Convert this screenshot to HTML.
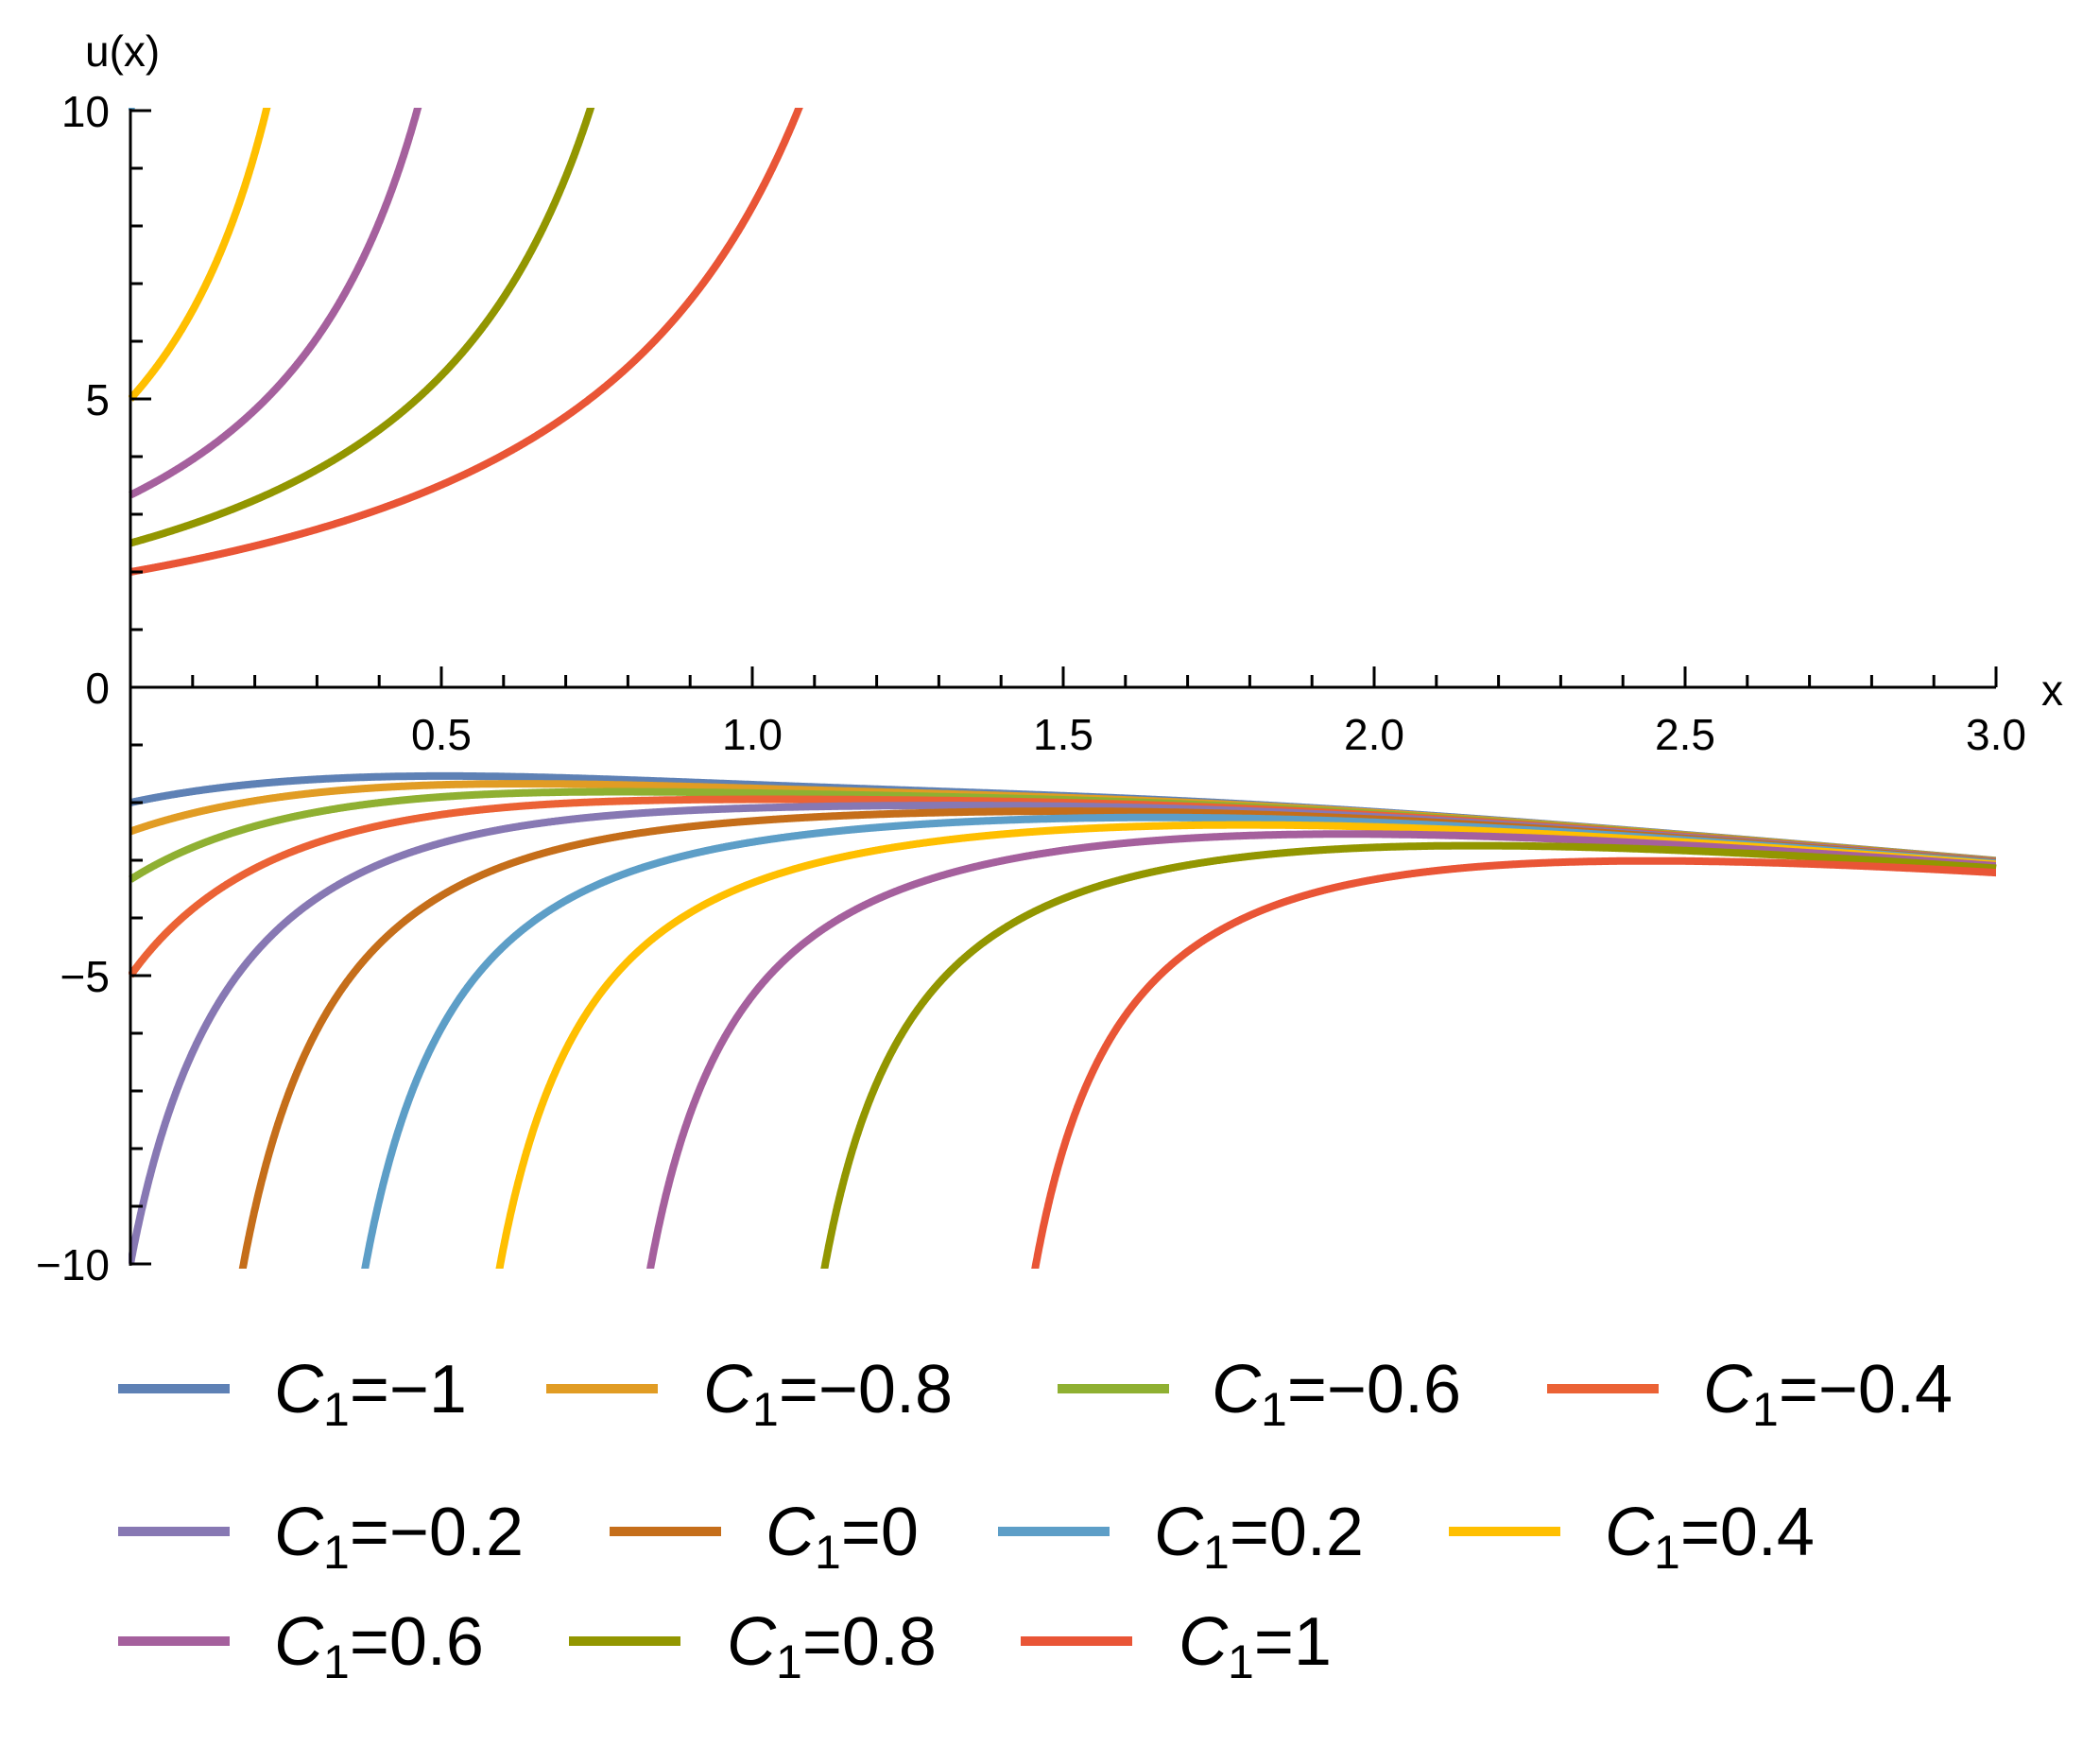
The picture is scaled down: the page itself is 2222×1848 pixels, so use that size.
<!DOCTYPE html>
<html><head><meta charset="utf-8"><style>
html,body{margin:0;padding:0;background:#fff;}
svg{display:block;}
text{font-family:"Liberation Sans",sans-serif;}
</style></head><body>
<svg id="s" width="2222" height="1848" viewBox="0 0 2222 1848" xmlns="http://www.w3.org/2000/svg">
<defs><clipPath id="c"><rect x="136" y="114" width="1990" height="1228"/></clipPath></defs>
<g id="curves" clip-path="url(#c)" fill="none" stroke-width="8" stroke-linejoin="round"></g>
<g id="axes" stroke="#000" stroke-width="3"></g>
<g id="labels" font-size="46" fill="#000"></g>
<text x="90" y="70" font-size="46">u(x)</text>
<text x="2160" y="746" font-size="46">x</text>
<g id="legend" font-size="72" fill="#000"></g>
</svg>
<script>
var NS="http://www.w3.org/2000/svg";
function el(t,a,p,txt){var e=document.createElementNS(NS,t);for(var k in a)e.setAttribute(k,a[k]);if(txt!==undefined)e.textContent=txt;p.appendChild(e);return e;}
var X0=138,XS=658,Y0=727,YS=61;
function px(x){return X0+x*XS;} function py(y){return Y0-y*YS;}
var cols=["#5E81B5","#E19C24","#8FB032","#EB6235","#8778B3","#C56E1A","#5D9EC7","#FFBF00","#A5609D","#929600","#E95536"];
var Cs=[-1,-0.8,-0.6,-0.4,-0.2,0,0.2,0.4,0.6,0.8,1];
var k=0.65,m=0.091,b=0.791;
function lw(C,x){var E=Math.exp(k*x+m*x*x);return C*0.5*E-b*(E-1);}
function lower(C,x){var w=lw(C,x);
 var p=-0.985*x*(1+0.2*Math.exp(-2*(x-0.8)*(x-0.8)));return p+1/w;}
function u(C,x){
 if(C>0){ if(lw(C,x)>0){var den=C/2-(0.48*x-0.1*x*x); return den>0?1/den:NaN;}
   var v=lower(C,x); return v<0?v:NaN;}
 return lower(C,x);}
var cg=document.getElementById("curves");
Cs.forEach(function(C,i){
  var d="",pen=false,prev=null;
  for(var j=0;j<=3000;j++){var x=j*0.001;var v=u(C,x);
    if(!isFinite(v)||(prev!==null&&isFinite(prev)&&Math.sign(prev)!==Math.sign(v))){pen=false;prev=v;continue;}
    var vv=Math.max(-10.5,Math.min(10.5,v));
    if(Math.abs(v)>10.5){ if(pen){d+="L"+px(x).toFixed(1)+" "+py(vv).toFixed(1);} pen=false; prev=v; continue;}
    if(!pen&&prev!==null&&Math.abs(prev)>10.5){var xp=x-0.001;d+="M"+px(xp).toFixed(1)+" "+py(prev>0?10.5:-10.5).toFixed(1);pen=true;}
    d+=(pen?"L":"M")+px(x).toFixed(1)+" "+py(vv).toFixed(1);pen=true;prev=v;}
  el("path",{d:d,stroke:cols[i]},cg);
});
var ag=document.getElementById("axes"),lg=document.getElementById("labels");
el("line",{x1:X0,y1:py(10.03),x2:X0,y2:py(-10.03)},ag);
el("line",{x1:X0,y1:Y0,x2:px(3),y2:Y0},ag);
for(var i=1;i<=30;i++){var x=px(i/10);var L=(i%5==0)?22:13;el("line",{x1:x,y1:Y0,x2:x,y2:Y0-L},ag);
 if(i%5==0)el("text",{x:x,y:Y0+66,"text-anchor":"middle"},lg,(i/10).toFixed(1));}
for(var v=-10;v<=10;v++){var y=py(v);var L=(v%5==0)?22:13;el("line",{x1:X0,y1:y,x2:X0+L,y2:y},ag);
 if(v%5==0)el("text",{x:116,y:y+17,"text-anchor":"end"},lg,(v<0?"\u2212":"")+Math.abs(v));}
var leg=document.getElementById("legend");
var rows=[[1469,[125,578,1119,1637],[290,744,1282,1802]],[1620,[125,645,1056,1533],[290,810,1221,1698]],[1736,[125,602,1080],[290,769,1247]]];
var n=0;
rows.forEach(function(r){for(var j=0;j<r[1].length;j++){var C=Cs[n];
 el("line",{x1:r[1][j],y1:r[0],x2:r[1][j]+118,y2:r[0],stroke:cols[n],"stroke-width":10},leg);
 var t=el("text",{x:r[2][j],y:r[0]+25},leg);
 el("tspan",{"font-style":"italic"},t,"C");
 el("tspan",{"font-size":"50",dy:"14"},t,"1");
 el("tspan",{dy:"-14"},t,"="+(C<0?"\u2212":"")+Math.abs(C));
 n++;}});
</script>
</body></html>
